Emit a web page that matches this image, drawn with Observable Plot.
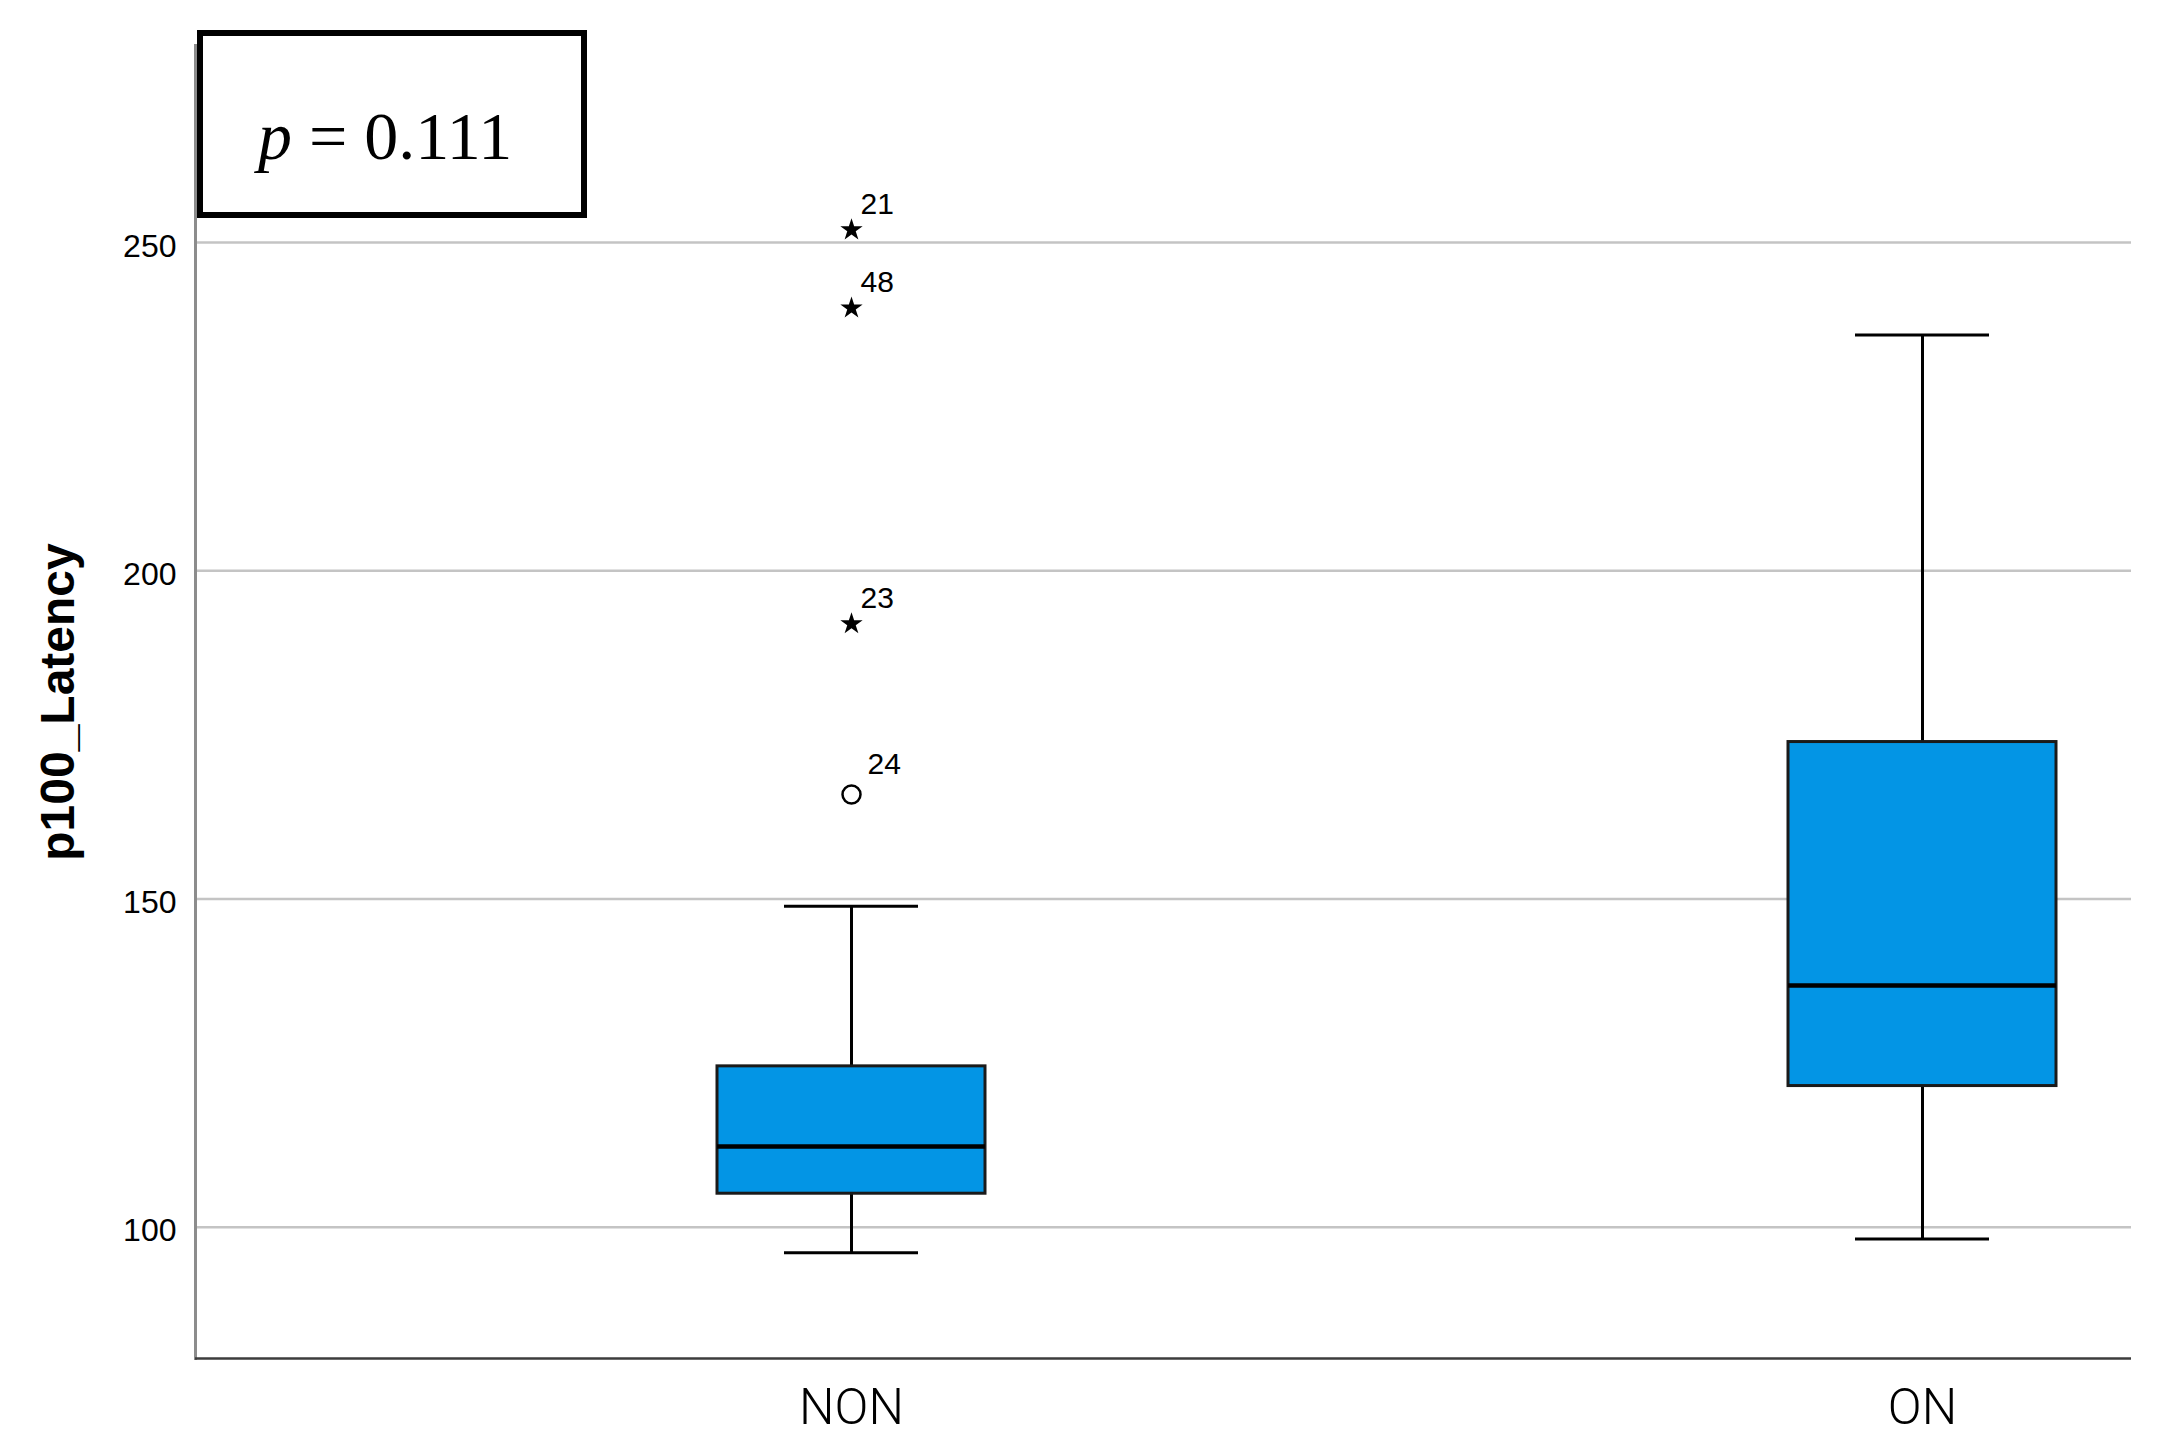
<!DOCTYPE html>
<html>
<head>
<meta charset="utf-8">
<script src="https://cdn.jsdelivr.net/npm/d3@7"></script>
<script src="https://cdn.jsdelivr.net/npm/@observablehq/plot@0.6"></script>
<style>
  html, body { margin: 0; padding: 0; background: #fff; }
  #wrap { position: relative; width: 2164px; height: 1455px; }
  #pbox {
    position: absolute; left: 197px; top: 30px; width: 390px; height: 188px;
    box-sizing: border-box; border: 6px solid #000; background: #fff;
    font-family: "Liberation Serif", "Times New Roman", serif; font-size: 68px; line-height: 68px;
  }
  #pbox span.t { position: absolute; left: 55px; top: 66px; white-space: nowrap; }
</style>
</head>
<body>
<div id="wrap"></div>
<script>
// ---- data ----
const groups  = ["NON", "ON"];
const lowWhisker  = [96.1, 98.2];
const q1          = [105.1, 121.5];
const medians     = [112.3, 136.8];
const q3          = [124.5, 173.9];
const highWhisker = [148.9, 235.9];

// extreme outliers (stars) and mild outliers (circles), with case ids
const extremeGroup = ["NON", "NON", "NON"];
const extremeValue = [251.9, 240.0, 191.9];
const extremeId    = ["21", "48", "23"];
const outlierGroup = ["NON"];
const outlierValue = [165.9];
const outlierId    = ["24"];

const yTicks = [100, 150, 200, 250];
const yLabel = "p100_Latency";
const pText = "0.111";

// ---- tables built from the arrays ----
const stats = groups.map((g, i) => ({
  group: g, lo: lowWhisker[i], q1: q1[i], median: medians[i], q3: q3[i], hi: highWhisker[i]
}));
const extremes = extremeValue.map((v, i) => ({group: extremeGroup[i], value: v, id: extremeId[i]}));
const outliers = outlierValue.map((v, i) => ({group: outlierGroup[i], value: v, id: outlierId[i]}));

const boxFill = "#0395e5";

const chart = Plot.plot({
  width: 2164,
  height: 1455,
  marginLeft: 195,
  marginRight: 33,
  marginTop: 45,
  marginBottom: 97,
  style: {fontFamily: "'Liberation Sans', Arial, sans-serif", background: "#fff", color: "#000"},
  x: {type: "band", domain: groups, paddingInner: 0.75, paddingOuter: 0.278, align: 0.874, label: null},
  y: {domain: [80, 280], label: null},
  marks: [
    Plot.ruleY(yTicks, {stroke: "#c4c4c4", strokeWidth: 2.5}),
    Plot.frame({anchor: "left", stroke: "#8c8c8c", strokeWidth: 3}),
    Plot.ruleY([80], {stroke: "#3c3c3c", strokeWidth: 2.5}),
    Plot.axisY({ticks: yTicks, tickSize: 0, tickPadding: 19, fontSize: 32, label: null, dy: 4}),
    Plot.axisX({tickSize: 0, tickPadding: 30, fontSize: 50, fontFamily: "Roboto, 'Liberation Sans', sans-serif", fontWeight: 300, label: null}),
    Plot.text([yLabel], {frameAnchor: "left", text: d => d, rotate: -90, textAnchor: "middle", lineAnchor: "middle", dx: -137, fontSize: 48, fontWeight: "bold"}),
    // whiskers
    Plot.ruleX(stats, {x: "group", y1: "lo", y2: "q1", stroke: "#000", strokeWidth: 3}),
    Plot.ruleX(stats, {x: "group", y1: "q3", y2: "hi", stroke: "#000", strokeWidth: 3}),
    Plot.tickY(stats, {x: "group", y: "lo", stroke: "#000", strokeWidth: 3, insetLeft: 67, insetRight: 67}),
    Plot.tickY(stats, {x: "group", y: "hi", stroke: "#000", strokeWidth: 3, insetLeft: 67, insetRight: 67}),
    // boxes
    Plot.barY(stats, {x: "group", y1: "q1", y2: "q3", fill: boxFill, stroke: "#1a1a1a", strokeWidth: 3}),
    Plot.tickY(stats, {x: "group", y: "median", stroke: "#000", strokeWidth: 4.5}),
    // outliers
    Plot.dot(extremes, {x: "group", y: "value", symbol: "star", r: 7, fill: "#000", stroke: null}),
    Plot.text(extremes, {x: "group", y: "value", text: "id", textAnchor: "start", lineAnchor: "bottom", dx: 9, dy: -16, fontSize: 30}),
    Plot.dot(outliers, {x: "group", y: "value", symbol: "circle", r: 9, fill: "none", stroke: "#000", strokeWidth: 2.5}),
    Plot.text(outliers, {x: "group", y: "value", text: "id", textAnchor: "start", lineAnchor: "bottom", dx: 16, dy: -21, fontSize: 30})
  ]
});

const wrap = document.getElementById("wrap");
wrap.appendChild(chart);

const box = document.createElement("div");
box.id = "pbox";
box.innerHTML = `<span class="t"><i>p</i> = ${pText}</span>`;
wrap.appendChild(box);
</script>
</body>
</html>
